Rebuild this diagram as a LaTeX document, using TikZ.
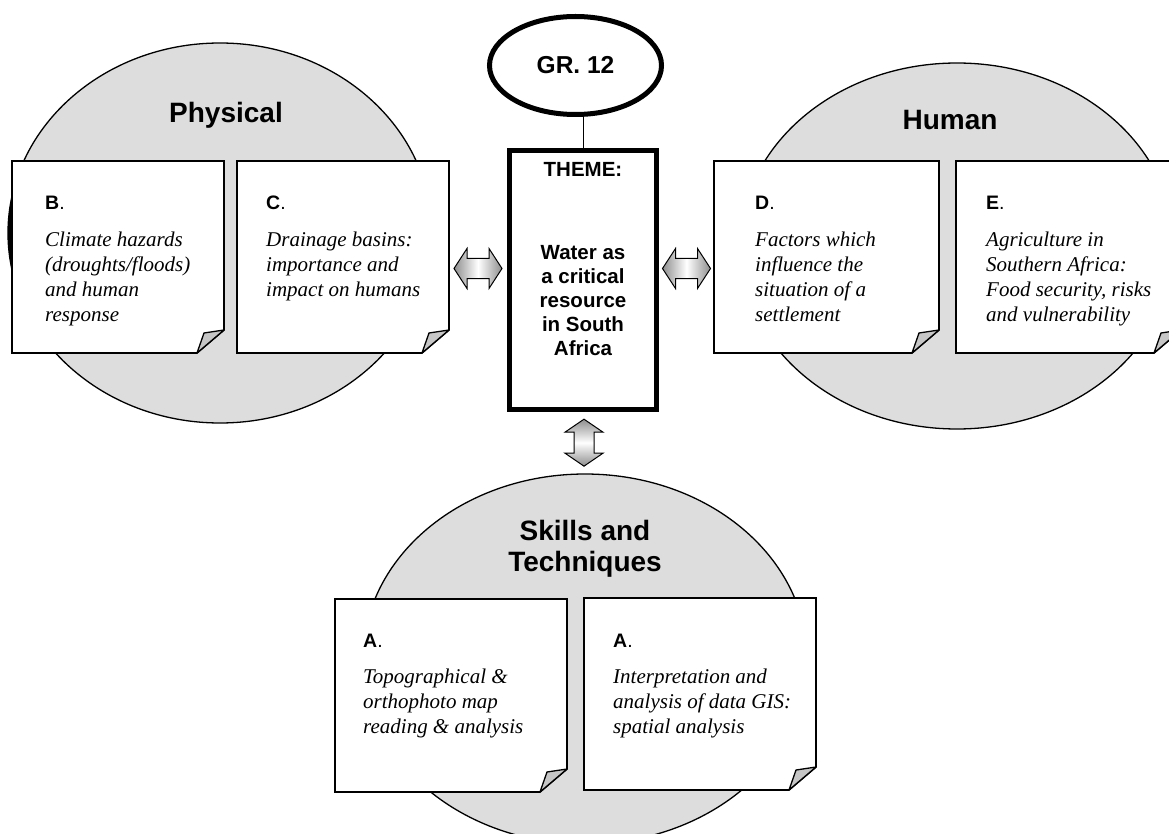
\documentclass[tikz,border=0pt]{standalone}
\usepackage{fontspec}
\setmainfont{Liberation Serif}
\setsansfont{Liberation Sans}
\usetikzlibrary{calc,shapes.geometric}

\definecolor{discgray}{HTML}{DDDDDD}
\definecolor{foldgray}{HTML}{C6C6C6}
\definecolor{arrowgray}{HTML}{8E8E8E}

\tikzset{
  disc/.style={ellipse, inner sep=0pt, fill=discgray, draw=black, line width=1.3pt},
  card/.style={rectangle, inner sep=0pt, outer sep=0pt},
  cardline/.style={fill=white, draw=black, line width=1.6pt, line join=miter},
  foldline/.style={fill=foldgray, draw=black, line width=1.3pt, line join=round},
  cardhead/.style={anchor=base west, inner sep=0pt, font=\sffamily\fontsize{19.5}{22}\selectfont},
  cardtext/.style={anchor=north west, inner sep=0pt, align=left,
                   font=\rmfamily\itshape\fontsize{21}{25}\selectfont},
  disctitle/.style={inner sep=0pt, align=center, font=\sffamily\bfseries\fontsize{28}{31}\selectfont},
  themetext/.style={inner sep=0pt, align=center, font=\sffamily\bfseries\fontsize{20.5}{24}\selectfont},
  thickframe/.style={draw=black, line width=5pt, fill=white, inner sep=0pt},
  hblock/.style={draw=black, line width=1pt, line join=miter,
                 left color=arrowgray, right color=arrowgray, middle color=white},
  vblock/.style={draw=black, line width=1pt, line join=miter,
                 top color=arrowgray, bottom color=arrowgray, middle color=white},
}

% card with a curled lower right corner
\newcommand\notecard[1]{%
  \draw[cardline] (#1.north west) -- (#1.north east) -- ([yshift=23pt]#1.south east)
    -- ([xshift=-27pt]#1.south east) -- (#1.south west) -- cycle;
  \draw[foldline] ([xshift=-27pt]#1.south east) -- ([xshift=-20pt,yshift=20pt]#1.south east)
    -- ([yshift=23pt]#1.south east) -- cycle;
}
% hollow double arrows, centred on a coordinate
\newcommand\hblockarrow[1]{%
  \path[hblock] ($(#1)+(-24,0)$) -- ++(13,-20) -- ++(0,10) -- ++(22,0) -- ++(0,-10)
    -- ++(13,20) -- ++(-13,20) -- ++(0,-10) -- ++(-22,0) -- ++(0,10) -- cycle;
}
\newcommand\vblockarrow[1]{%
  \path[vblock] ($(#1)+(0,-23.5)$) -- ++(-19,13) -- ++(9,0) -- ++(0,21) -- ++(-9,0)
    -- ++(19,13) -- ++(19,-13) -- ++(-9,0) -- ++(0,-21) -- ++(9,0) -- cycle;
}

\begin{document}
\begin{tikzpicture}[x=1pt,y=-1pt]
\useasboundingbox (0,0) rectangle (1169,834);

% the three theme discs
\node[disc, minimum width=424pt, minimum height=380pt] (physical) at (220,233) {};
\node[disc, minimum width=434pt, minimum height=366pt] (human) at (957,246) {};
\node[disc, minimum width=444pt, minimum height=370pt] (skills) at (585,659) {};

% darker rim on the left of the physical disc
\fill[black] ([shift={(220,233)}]164:212pt and 190pt)
  arc[start angle=164, end angle=210, x radius=212pt, y radius=190pt]
  .. controls (14,300) and (12,215) .. cycle;

% disc titles
\node[disctitle, anchor=base] (physTitle) at (226,123) {Physical};
\node[disctitle, anchor=base] (humTitle) at (950,130) {Human};
\node[disctitle, anchor=north] (skillTitle) at (585,520) {Skills and\\Techniques};

% cards
\node[card, minimum width=212pt, minimum height=192pt] (B) at (118,257) {};
\node[card, minimum width=212pt, minimum height=192pt] (C) at (343,257) {};
\node[card, minimum width=225pt, minimum height=192pt] (D) at (826.5,257) {};
\node[card, minimum width=225pt, minimum height=192pt] (E) at (1068.5,257) {};
\node[card, minimum width=232pt, minimum height=193pt] (A1) at (451,695.5) {};
\node[card, minimum width=232pt, minimum height=192pt] (A2) at (700,694) {};
\notecard{B}
\notecard{C}
\notecard{D}
\notecard{E}
\notecard{A1}
\notecard{A2}

\node[cardhead] (Bhead) at (45,210) {\textbf{B}.};
\node[cardtext] (Btext) at (45,231.7) {Climate hazards\\(droughts/floods)\\and human\\response};
\node[cardhead] (Chead) at (266,210) {\textbf{C}.};
\node[cardtext] (Ctext) at (266,231.7) {Drainage basins:\\importance and\\impact on humans};
\node[cardhead] (Dhead) at (755,210) {\textbf{D}.};
\node[cardtext] (Dtext) at (755,231.7) {Factors which\\influence the\\situation of a\\settlement};
\node[cardhead] (Ehead) at (986,210) {\textbf{E}.};
\node[cardtext] (Etext) at (986,231.7) {Agriculture in\\Southern Africa:\\Food security, risks\\and vulnerability};
\node[cardhead] (A1head) at (363,647) {\textbf{A}.};
\node[cardtext] (A1text) at (363,668.7) {Topographical \&\\orthophoto map\\reading \& analysis};
\node[cardhead] (A2head) at (613,647) {\textbf{A}.};
\node[cardtext] (A2text) at (613,668.7) {Interpretation and\\analysis of data GIS:\\spatial analysis};

% central theme and grade label
\node[thickframe, minimum width=147pt, minimum height=259pt] (theme) at (583,280) {};
\node[themetext, anchor=north] (themeText) at (583,162.3)
  {THEME:\\[59pt]Water as\\a critical\\resource\\in South\\Africa};
\node[ellipse, draw=black, line width=5pt, fill=white, inner sep=0pt,
      minimum width=172pt, minimum height=98pt,
      font=\sffamily\bfseries\fontsize{24.5}{28}\selectfont] (gr) at (575.5,65.5) {GR. 12};
\draw[line width=1pt] (gr.south -| theme.north) -- (theme.north);

% links between the theme and the discs
\hblockarrow{$(C.east)!0.5!(theme.west)$}
\hblockarrow{$(theme.east)!0.5!(D.west)$}
\vblockarrow{$(theme.south)!0.5!(skills.north)$}
\end{tikzpicture}
\end{document}
